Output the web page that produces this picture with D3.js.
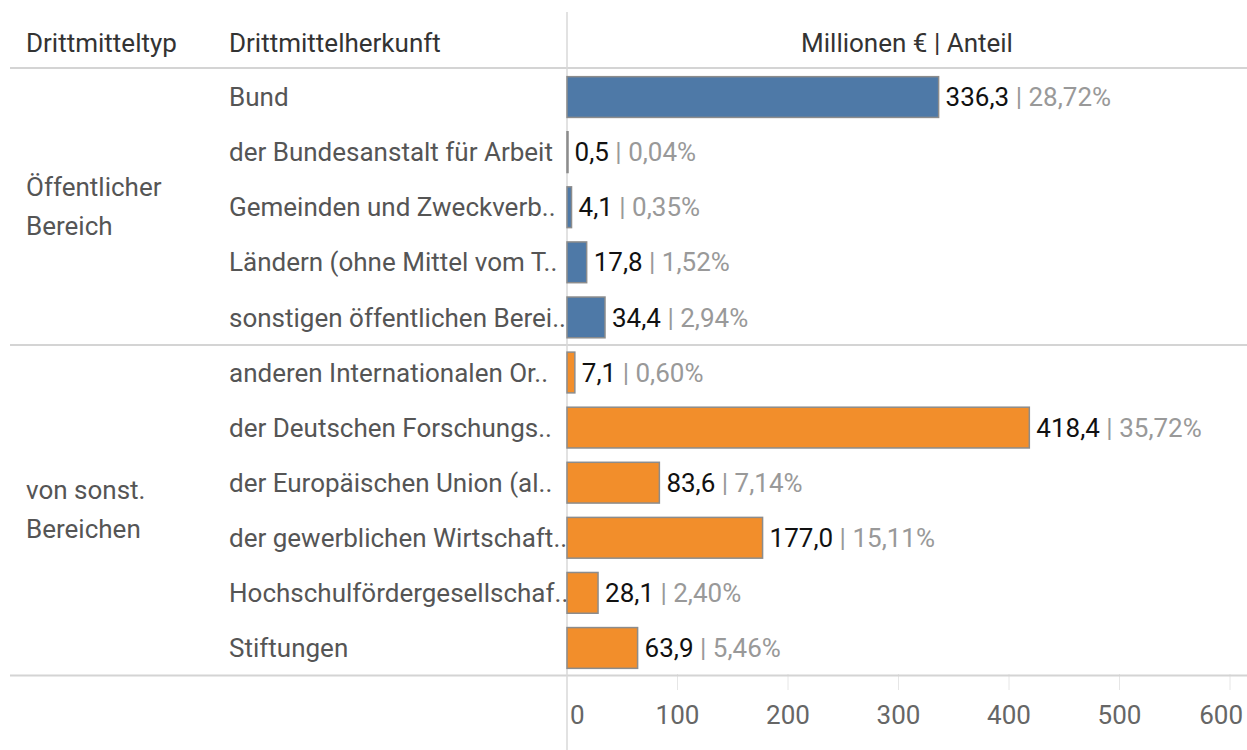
<!DOCTYPE html>
<html>
<head>
<meta charset="utf-8">
<script src="https://cdn.jsdelivr.net/npm/d3@7"></script>
<style>
  body { margin: 0; background: #fff; }
  svg { display: block; font-family: Roboto, "Liberation Sans", Arial, sans-serif; }
</style>
</head>
<body>
<div id="chart"></div>
<script>
// Data
const groups = ["Öffentlicher\nBereich", "von sonst.\nBereichen"];
const sources = [
  "Bund", "der Bundesanstalt für Arbeit", "Gemeinden und Zweckverb..",
  "Ländern (ohne Mittel vom T..", "sonstigen öffentlichen Berei..",
  "anderen Internationalen Or..", "der Deutschen Forschungs..",
  "der Europäischen Union (al..", "der gewerblichen Wirtschaft..",
  "Hochschulfördergesellschaf..", "Stiftungen"
];
const sourceGroup = [0, 0, 0, 0, 0, 1, 1, 1, 1, 1, 1];
const values = [336.3, 0.5, 4.1, 17.8, 34.4, 7.1, 418.4, 83.6, 177.0, 28.1, 63.9];
const shares = ["28,72%", "0,04%", "0,35%", "1,52%", "2,94%", "0,60%", "35,72%", "7,14%", "15,11%", "2,40%", "5,46%"];
const ticks = [0, 100, 200, 300, 400, 500, 600];
const groupColors = ["#4e79a7", "#f28e2b"];

const W = 1247, H = 750;
const fs = 26;

const svg = d3.select("#chart").append("svg")
  .attr("width", W).attr("height", H);

const x = d3.scaleLinear().domain([0, 600]).range([567, 1230]);
const y = d3.scaleBand().domain(d3.range(sources.length)).range([69.5, 675.5]).paddingInner(0.26).paddingOuter(0.13);
const step = y.step();

const fmt = v => d3.format(".1f")(v).replace(".", ",");

// headers
svg.append("text").attr("x", 26).attr("y", 52).attr("fill", "#333").style("font-size", fs + "px").text("Drittmitteltyp");
svg.append("text").attr("x", 229).attr("y", 52).attr("fill", "#333").style("font-size", fs + "px").text("Drittmittelherkunft");
svg.append("text").attr("x", (567 + W) / 2).attr("y", 52).attr("text-anchor", "middle")
  .attr("fill", "#333").style("font-size", fs + "px").text("Millionen € | Anteil");

// tick marks below the table
svg.append("g").selectAll("line").data(ticks.slice(1)).join("line")
  .attr("x1", d => x(d)).attr("x2", d => x(d))
  .attr("y1", 674).attr("y2", 690)
  .attr("stroke", "#e6e6e6").attr("stroke-width", 1);

// horizontal separators
const sepY = [68, 69.5 + 5 * step, 69.5 + 11 * step];
svg.append("g").selectAll("line").data(sepY).join("line")
  .attr("x1", 10).attr("x2", W)
  .attr("y1", d => d).attr("y2", d => d)
  .attr("stroke", "#d4d4d4").attr("stroke-width", 2);

// vertical axis line
svg.append("line").attr("x1", 567).attr("x2", 567).attr("y1", 12).attr("y2", H)
  .attr("stroke", "#d9d9d9").attr("stroke-width", 1.5);

// group labels
groups.forEach((g, gi) => {
  const idx = sourceGroup.map((d, i) => d === gi ? i : -1).filter(i => i >= 0);
  const cy = (y(idx[0]) + y(idx[idx.length - 1]) + y.bandwidth()) / 2;
  const t = svg.append("text").attr("x", 26).attr("y", cy).attr("fill", "#555").style("font-size", fs + "px");
  g.split("\n").forEach((line, li) => {
    t.append("tspan").attr("x", 26).attr("dy", li === 0 ? "-0.45em" : "1.5em").text(line);
  });
});

// row labels
svg.append("g").selectAll("text").data(sources).join("text")
  .attr("x", 229)
  .attr("y", (d, i) => y(i) + y.bandwidth() / 2)
  .attr("dy", "0.35em")
  .attr("fill", "#555")
  .style("font-size", fs + "px")
  .text(d => d);

// bars
svg.append("g").selectAll("rect").data(values).join("rect")
  .attr("x", x(0))
  .attr("y", (d, i) => y(i))
  .attr("width", d => Math.max(1, x(d) - x(0)))
  .attr("height", y.bandwidth())
  .attr("fill", (d, i) => groupColors[sourceGroup[i]])
  .attr("stroke", "#8c8c8c").attr("stroke-width", 1.5);

// value labels
const lbl = svg.append("g").selectAll("text").data(values).join("text")
  .attr("x", d => x(d) + 7)
  .attr("y", (d, i) => y(i) + y.bandwidth() / 2)
  .attr("dy", "0.35em")
  .style("font-size", fs + "px");
lbl.append("tspan").attr("fill", "#111").text(d => fmt(d));
lbl.append("tspan").attr("fill", "#999").text((d, i) => " | " + shares[i]);

// axis tick labels
svg.append("g").selectAll("text").data(ticks).join("text")
  .attr("x", (d, i) => i === 0 ? x(d) + 3 : (i === ticks.length - 1 ? W - 4 : x(d)))
  .attr("y", 724)
  .attr("text-anchor", (d, i) => i === 0 ? "start" : (i === ticks.length - 1 ? "end" : "middle"))
  .attr("fill", "#666")
  .style("font-size", fs + "px")
  .text(d => d);
</script>
</body>
</html>
